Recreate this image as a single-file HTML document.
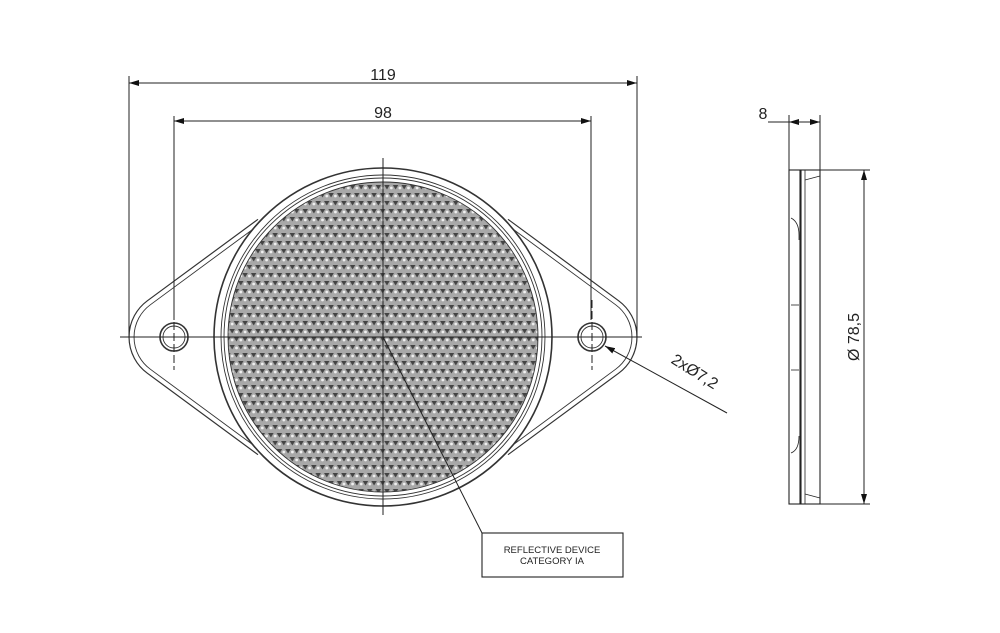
<!DOCTYPE html>
<html><head><meta charset="utf-8"><style>
html,body{margin:0;padding:0;background:#fff;}
svg{display:block;font-family:"Liberation Sans",sans-serif;}
</style></head><body>
<svg width="1000" height="633" viewBox="0 0 1000 633" xmlns="http://www.w3.org/2000/svg">
<defs>
<pattern id="tri" width="8.6" height="16" patternUnits="userSpaceOnUse">
<rect width="8.6" height="16" fill="#a8a8a8"/>
<polygon points="1.5,1 7,1 4.3,5.5" fill="#444"/>
<polygon points="5.8,9 11.3,9 8.6,13.5" fill="#444"/>
<polygon points="-2.8,9 2.7,9 0,13.5" fill="#444"/>
<circle cx="4.3" cy="12" r="1.4" fill="#f0f0f0"/>
<circle cx="0" cy="4" r="1.4" fill="#f0f0f0"/>
<circle cx="8.6" cy="4" r="1.4" fill="#f0f0f0"/>
</pattern>
<marker id="ar" viewBox="0 0 10 6" refX="10" refY="3" markerWidth="10" markerHeight="6" markerUnits="userSpaceOnUse" orient="auto-start-reverse">
<path d="M0,0 L10,3 L0,6 z" fill="#111"/>
</marker>
</defs>
<g fill="none" stroke="#333" stroke-width="1.2">
<path d="M258,219.3 L147.3,300.8 A45,45 0 0 0 147.3,373.2 L258,454.7"/>
<path d="M262,222.5 L150.3,304.8 A40,40 0 0 0 150.3,369.2 L262,451.5" stroke-width="0.9"/>
<path d="M508,219.3 L618.7,300.8 A45,45 0 0 1 618.7,373.2 L508,454.7"/>
<path d="M504,222.5 L615.7,304.8 A40,40 0 0 1 615.7,369.2 L504,451.5" stroke-width="0.9"/>
<circle cx="174" cy="337" r="14" stroke-width="1.6"/>
<circle cx="174" cy="337" r="11" stroke-width="0.9"/>
<circle cx="592" cy="337" r="14" stroke-width="1.6"/>
<circle cx="592" cy="337" r="11" stroke-width="0.9"/>
<circle cx="383" cy="337" r="169" fill="#fff" stroke-width="1.6"/>
<circle cx="383" cy="337" r="162" stroke-width="0.9"/>
<circle cx="383" cy="337" r="159" stroke-width="0.9"/>
<circle cx="383" cy="337" r="155" fill="url(#tri)" stroke-width="0.9"/>
</g>
<g stroke="#222" stroke-width="1" fill="none">
<line x1="120" y1="337" x2="642" y2="337"/>
<line x1="383" y1="158" x2="383" y2="515"/>
<line x1="174" y1="300" x2="174" y2="370" stroke-dasharray="8,3"/>
<line x1="592" y1="300" x2="592" y2="370" stroke-dasharray="8,3"/>
<line x1="129" y1="76" x2="129" y2="337"/>
<line x1="637" y1="76" x2="637" y2="337"/>
<line x1="174" y1="116" x2="174" y2="320"/>
<line x1="591" y1="116" x2="591" y2="320"/>
<line x1="129" y1="83" x2="637" y2="83" marker-start="url(#ar)" marker-end="url(#ar)"/>
<line x1="174" y1="121" x2="591" y2="121" marker-start="url(#ar)" marker-end="url(#ar)"/>
<line x1="727" y1="413" x2="605" y2="346" marker-end="url(#ar)"/>
<polyline points="383,337 482,533"/>
<rect x="482" y="533" width="141" height="44" stroke-width="1.1"/>
<rect x="789" y="170" width="11" height="334" stroke-width="1.1"/>
<rect x="801" y="170" width="19" height="334" stroke-width="1.1"/>
<line x1="805" y1="170" x2="805" y2="504" stroke-width="0.8"/>
<line x1="805" y1="180" x2="820" y2="176" stroke-width="0.8"/>
<line x1="805" y1="494" x2="820" y2="498" stroke-width="0.8"/>
<path d="M791,218 Q799,222 799,235 L799,240" stroke-width="0.8"/>
<path d="M791,453 Q799,450 799,436" stroke-width="0.8"/>
<line x1="791" y1="305" x2="799" y2="305" stroke-width="0.8"/>
<line x1="791" y1="370" x2="799" y2="370" stroke-width="0.8"/>
<line x1="789" y1="115" x2="789" y2="170"/>
<line x1="820" y1="115" x2="820" y2="170"/>
<line x1="768" y1="122" x2="789" y2="122"/>
<line x1="812" y1="122" x2="789" y2="122" marker-end="url(#ar)"/>
<line x1="797" y1="122" x2="820" y2="122" marker-end="url(#ar)"/>
<line x1="820" y1="170" x2="870" y2="170"/>
<line x1="820" y1="504" x2="870" y2="504"/>
<line x1="864" y1="170" x2="864" y2="504" marker-start="url(#ar)" marker-end="url(#ar)"/>
</g>
<g fill="#222" font-size="16">
<text x="383" y="80" text-anchor="middle">119</text>
<text x="383" y="118" text-anchor="middle">98</text>
<text x="763" y="119" text-anchor="middle">8</text>
<text transform="translate(859,337) rotate(-90)" text-anchor="middle">Ø 78,5</text>
<text transform="translate(692,376) rotate(32)" text-anchor="middle">2xØ7,2</text>
<text x="552" y="553" font-size="9.5" text-anchor="middle">REFLECTIVE DEVICE</text>
<text x="552" y="564" font-size="9.5" text-anchor="middle">CATEGORY IA</text>
</g>
</svg>
</body></html>
